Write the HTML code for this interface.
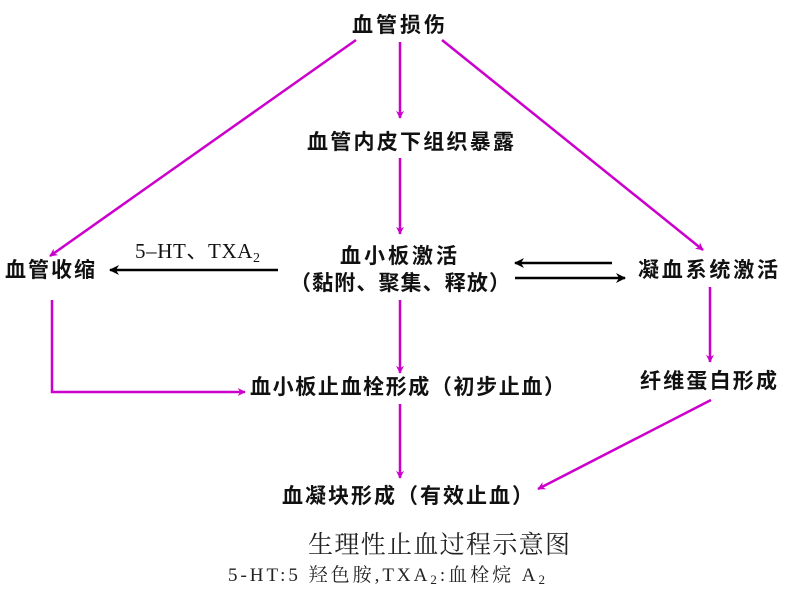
<!DOCTYPE html>
<html><head><meta charset="utf-8"><style>
html,body{margin:0;padding:0;background:#fff}
svg{display:block}
.t{font-family:"Liberation Serif","Noto Sans CJK SC",sans-serif;font-size:21px;font-weight:bold;fill:#111}
.c{font-family:"Liberation Serif","Noto Serif CJK SC",serif;font-size:25px;fill:#222}
.n{font-family:"Liberation Serif","Noto Serif CJK SC",serif;font-size:19px;fill:#222}
</style></head><body>
<svg width="785" height="590" viewBox="0 0 785 590" xmlns="http://www.w3.org/2000/svg">
<defs>
<marker id="m" viewBox="0 0 10 10" refX="9" refY="5" markerWidth="8" markerHeight="8" orient="auto" markerUnits="userSpaceOnUse"><path d="M0,0 L10,5 L0,10 L3,5 z" fill="#cc00cc"/></marker>
<marker id="k" viewBox="0 0 10 10" refX="9" refY="5" markerWidth="12" markerHeight="10" orient="auto" markerUnits="userSpaceOnUse"><path d="M0,0 L10,5 L0,10 L3,5 z" fill="#000"/></marker>
</defs>
<g stroke="#cc00cc" stroke-width="2.5" fill="none" marker-end="url(#m)">
<line x1="356" y1="40" x2="50" y2="256"/>
<line x1="400" y1="42" x2="400" y2="118"/>
<line x1="442" y1="40" x2="703" y2="250"/>
<line x1="400" y1="158" x2="400" y2="234"/>
<line x1="400" y1="300" x2="400" y2="373"/>
<line x1="710" y1="287" x2="710" y2="362"/>
<line x1="400" y1="404" x2="400" y2="478"/>
<line x1="711" y1="400" x2="538" y2="489"/>
<polyline points="52,300 52,392 245,392"/>
</g>
<g stroke="#000" stroke-width="2.5" marker-end="url(#k)">
<line x1="278" y1="270" x2="110" y2="270"/>
<line x1="612" y1="263" x2="515" y2="263"/>
<line x1="515" y1="278" x2="625" y2="278"/>
</g>
<text class="t" x="352" y="32" textLength="93" lengthAdjust="spacing">血管损伤</text>
<text class="t" x="307" y="149" textLength="207" lengthAdjust="spacing">血管内皮下组织暴露</text>
<text class="t" x="340" y="263" textLength="117" lengthAdjust="spacing">血小板激活</text>
<text class="t" x="290" y="290" textLength="220" lengthAdjust="spacing">（黏附、聚集、释放）</text>
<text class="t" x="5" y="277" textLength="90" lengthAdjust="spacing">血管收缩</text>
<text class="t" x="135" y="258" style="font-weight:normal" textLength="125" lengthAdjust="spacing">5–HT、TXA<tspan font-size="14" dy="4">2</tspan></text>
<text class="t" x="638" y="277" textLength="140" lengthAdjust="spacing">凝血系统激活</text>
<text class="t" x="640" y="388" textLength="137" lengthAdjust="spacing">纤维蛋白形成</text>
<text class="t" x="250" y="394" textLength="315" lengthAdjust="spacing">血小板止血栓形成（初步止血）</text>
<text class="t" x="282" y="503" textLength="251" lengthAdjust="spacing">血凝块形成（有效止血）</text>
<text class="c" x="308" y="553" textLength="262" lengthAdjust="spacing">生理性止血过程示意图</text>
<text class="n" x="228" y="581" textLength="317" lengthAdjust="spacing">5-HT:5 羟色胺,TXA<tspan font-size="13" dy="3">2</tspan><tspan dy="-3">:血栓烷 A</tspan><tspan font-size="13" dy="3">2</tspan></text>
</svg>
</body></html>
